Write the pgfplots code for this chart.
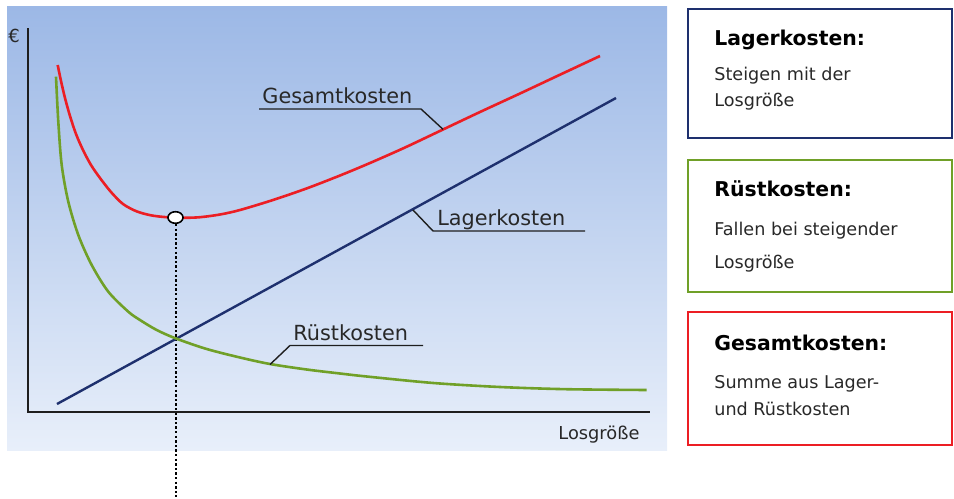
\documentclass[border=0pt]{standalone}
\usepackage{pgfplots}
\pgfplotsset{compat=1.18}
\usepackage{fontspec}
\setmainfont{DejaVu Sans}
\definecolor{cblue}{RGB}{30,48,110}
\definecolor{cgreen}{RGB}{112,160,40}
\definecolor{cred}{RGB}{236,30,36}
\definecolor{caxis}{RGB}{30,30,30}
\definecolor{bgtop}{RGB}{156,184,230}
\definecolor{bgbot}{RGB}{232,239,250}
\definecolor{ctext}{RGB}{40,40,40}
\begin{document}
\begin{tikzpicture}
\begin{axis}[
  scale only axis, width=477pt, height=248.5pt,
  xmin=0, xmax=954, ymin=0, ymax=497, y dir=reverse,
  hide axis, clip=false,
]
\path (rel axis cs:0,0) rectangle (rel axis cs:1,1);
% background gradient
\fill[top color=bgtop, bottom color=bgbot] (axis cs:7,6) rectangle (axis cs:667,450);
% axes
\draw[caxis, line width=1.3pt] (axis cs:28,28) -- (axis cs:28,412) -- (axis cs:650,412);
\node[anchor=base west, inner sep=0, font=\fontsize{9}{10}\selectfont, text=ctext] at (axis cs:8,42) {€};
\node[anchor=base west, inner sep=0, font=\fontsize{8.9}{10}\selectfont, text=ctext] at (axis cs:558,439) {Losgröße};
% dotted line
\addplot[black, line width=1.2pt, dash pattern=on 1.2pt off 1.1pt] coordinates {(176,224) (176,497)};
% Lagerkosten
\addplot[cblue, line width=1.2pt] coordinates {(57,404) (616,98)};
% Ruestkosten
\addplot[cgreen, line width=1.3pt, smooth] coordinates {
(56,76.7) (58.3,121.7) (61.7,165) (68.3,201.7) (78.3,235) (91.7,265) (108.3,291.7) (128.3,311.7) (140,320) (156.7,330) (176,338.5) (206.7,349) (240,357.5) (270,364) (306.7,369.5) (340,373.5) (366.7,376.5) (433.3,383) (500,387) (566.7,389.2) (646.7,390)};
% Gesamtkosten
\addplot[cred, line width=1.3pt, smooth] coordinates {
(57.7,65) (61,81) (65,98) (70,116) (76,134) (83,150) (91,165) (100,178) (111,192) (123,204) (137,211.5) (152,215.5) (168,217.3) (184,217.8) (200,217.2) (220,214.5) (240,210) (273,200) (307,188.3) (340,175.5) (370,163) (405,147.5) (443,129.5) (480,112) (520,93.5) (560,74.7) (600,56)};
% minimum marker
\addplot[only marks, mark=*, mark options={fill=white, draw=black, line width=0.8pt, xscale=1.3}, mark size=2.9pt] coordinates {(175.5,217.5)};
% curve labels
\draw[caxis, line width=0.7pt] (axis cs:443,129.3) -- (axis cs:421,109) -- (axis cs:259,109);
\node[anchor=base west, inner sep=0, font=\fontsize{10.4}{12}\selectfont, text=ctext] at (axis cs:262,103) {Gesamtkosten};
\draw[caxis, line width=0.7pt] (axis cs:413,210) -- (axis cs:433,231) -- (axis cs:585,231);
\node[anchor=base west, inner sep=0, font=\fontsize{10.4}{12}\selectfont, text=ctext] at (axis cs:437,225) {Lagerkosten};
\draw[caxis, line width=0.7pt] (axis cs:270,364.5) -- (axis cs:290,345.5) -- (axis cs:423,345.5);
\node[anchor=base west, inner sep=0, font=\fontsize{10.4}{12}\selectfont, text=ctext] at (axis cs:293,340) {Rüstkosten};
% boxes
\draw[cblue, line width=1.1pt] (axis cs:688,9) rectangle (axis cs:952,138);
\draw[cgreen, line width=1.1pt] (axis cs:688,160) rectangle (axis cs:952,292);
\draw[cred, line width=1.1pt] (axis cs:688,312) rectangle (axis cs:952,445);
\node[anchor=base west, inner sep=0, font=\bfseries\fontsize{10.2}{12}\selectfont, text=black] at (axis cs:714,45) {Lagerkosten:};
\node[anchor=base west, inner sep=0, font=\fontsize{8.8}{10}\selectfont, text=ctext] at (axis cs:714,80) {Steigen mit der};
\node[anchor=base west, inner sep=0, font=\fontsize{8.8}{10}\selectfont, text=ctext] at (axis cs:714,106) {Losgröße};
\node[anchor=base west, inner sep=0, font=\bfseries\fontsize{10.2}{12}\selectfont, text=black] at (axis cs:714,196) {Rüstkosten:};
\node[anchor=base west, inner sep=0, font=\fontsize{8.8}{10}\selectfont, text=ctext] at (axis cs:714,235) {Fallen bei steigender};
\node[anchor=base west, inner sep=0, font=\fontsize{8.8}{10}\selectfont, text=ctext] at (axis cs:714,268) {Losgröße};
\node[anchor=base west, inner sep=0, font=\bfseries\fontsize{10.2}{12}\selectfont, text=black] at (axis cs:714,350) {Gesamtkosten:};
\node[anchor=base west, inner sep=0, font=\fontsize{8.8}{10}\selectfont, text=ctext] at (axis cs:714,388) {Summe aus Lager-};
\node[anchor=base west, inner sep=0, font=\fontsize{8.8}{10}\selectfont, text=ctext] at (axis cs:714,415) {und Rüstkosten};
\end{axis}
\end{tikzpicture}
\end{document}
